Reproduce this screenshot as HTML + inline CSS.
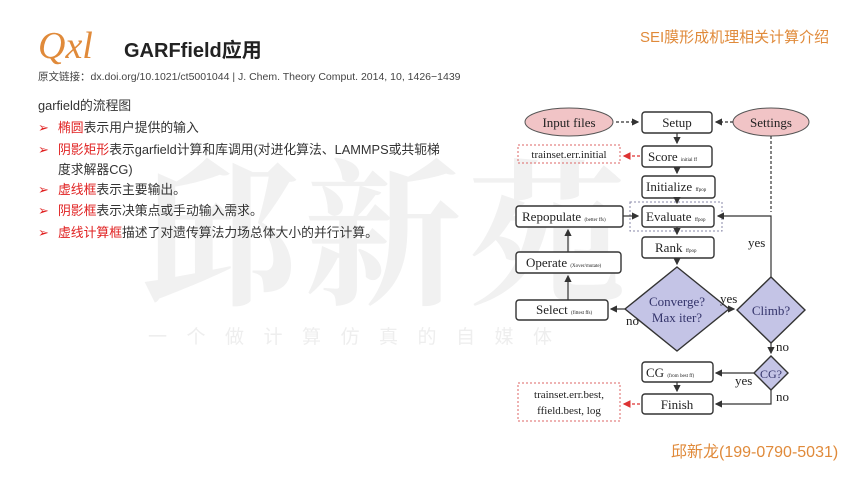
<!DOCTYPE html>
<html><head><meta charset="utf-8"><style>
html,body{margin:0;padding:0;background:#fff;}
body{width:860px;height:484px;overflow:hidden;position:relative;font-family:"Liberation Sans","Noto Sans CJK SC",sans-serif;}
</style></head><body>
<svg width="860" height="484" style="position:absolute;left:0;top:0" font-family="Liberation Sans, Noto Sans CJK SC, sans-serif">
<text x="140" y="292" font-size="158" fill="#f1f1f1" font-family="Noto Serif CJK SC, Noto Sans CJK SC, serif" font-weight="bold" letter-spacing="6">邱新苑</text>
<text x="148" y="343" font-size="19" fill="#eeeeee" letter-spacing="19.5">一个做计算仿真的自媒体</text>
<text x="38" y="58" font-size="38" fill="#e08a3a" font-style="italic" font-family="Liberation Serif, serif">Qxl</text>
<text x="124" y="57" font-size="20" fill="#222" font-weight="bold">GARFfield应用</text>
<text x="38" y="80" font-size="10.5" fill="#444">原文链接：dx.doi.org/10.1021/ct5001044 | J. Chem. Theory Comput. 2014,   10,   1426−1439</text>
<text x="640" y="42" font-size="15" fill="#e08a3a">SEI膜形成机理相关计算介绍</text>
<text x="671" y="457" font-size="16" fill="#e08a3a">邱新龙(199-0790-5031)</text>
<g font-size="12.8" fill="#333">
<text x="38" y="110">garfield的流程图</text>
<text x="38" y="132" fill="#e02020">➢</text><text x="58" y="132"><tspan fill="#e02020">椭圆</tspan>表示用户提供的输入</text>
<text x="38" y="154" fill="#e02020">➢</text><text x="58" y="154"><tspan fill="#e02020">阴影矩形</tspan>表示garfield计算和库调用(对进化算法、LAMMPS或共轭梯</text>
<text x="58" y="174">度求解器CG)</text>
<text x="38" y="194" fill="#e02020">➢</text><text x="58" y="194"><tspan fill="#e02020">虚线框</tspan>表示主要输出。</text>
<text x="38" y="215" fill="#e02020">➢</text><text x="58" y="215"><tspan fill="#e02020">阴影框</tspan>表示决策点或手动输入需求。</text>
<text x="38" y="237" fill="#e02020">➢</text><text x="58" y="237"><tspan fill="#e02020">虚线计算框</tspan>描述了对遗传算法力场总体大小的并行计算。</text>
</g>
<defs><marker id="ar" markerWidth="6" markerHeight="6" refX="5" refY="3" orient="auto"><path d="M0,0L6,3L0,6z" fill="#333"/></marker>
<marker id="rr" markerWidth="6" markerHeight="6" refX="5" refY="3" orient="auto"><path d="M0,0L6,3L0,6z" fill="#d33"/></marker></defs>
<g font-family="Liberation Serif, serif" fill="#222">
<ellipse cx="569" cy="122" rx="44" ry="14" fill="#f1c4c6" stroke="#555"/>
<text x="569" y="127" font-size="13" text-anchor="middle">Input files</text>
<ellipse cx="771" cy="122" rx="38" ry="14" fill="#f1c4c6" stroke="#555"/>
<text x="771" y="127" font-size="13" text-anchor="middle">Settings</text>
<g fill="#fff" stroke="#333" stroke-width="1.4">
<rect x="642" y="112" width="70" height="21" rx="3"/>
<rect x="642" y="146" width="70" height="21" rx="3"/>
<rect x="642" y="176" width="73" height="22" rx="3"/>
<rect x="642" y="206" width="72" height="21" rx="3"/>
<rect x="642" y="237" width="72" height="21" rx="3"/>
<rect x="516" y="206" width="107" height="21" rx="3"/>
<rect x="516" y="252" width="105" height="21" rx="3"/>
<rect x="516" y="300" width="92" height="20" rx="3"/>
<rect x="642" y="362" width="71" height="20" rx="3"/>
<rect x="642" y="394" width="71" height="20" rx="3"/>
</g>
<rect x="630" y="202" width="92" height="29" fill="none" stroke="#88a" stroke-dasharray="2,2"/>
<rect x="518" y="145" width="102" height="18" fill="none" stroke="#d66" stroke-dasharray="2,2"/>
<rect x="518" y="383" width="102" height="38" fill="none" stroke="#d66" stroke-dasharray="2,2"/>
<polygon points="677,267 729,309 677,351 625,309" fill="#c4c4e6" stroke="#333" stroke-width="1.4"/>
<polygon points="771,277 805,310 771,343 737,310" fill="#c4c4e6" stroke="#333" stroke-width="1.4"/>
<polygon points="771,356 788,373 771,390 754,373" fill="#c4c4e6" stroke="#333" stroke-width="1.4"/>
<g font-size="13">
<text x="677" y="127" text-anchor="middle">Setup</text>
<text x="648" y="161">Score <tspan font-size="5">initial ff</tspan></text>
<text x="646" y="191">Initialize <tspan font-size="5">ffpop</tspan></text>
<text x="646" y="221">Evaluate <tspan font-size="5">ffpop</tspan></text>
<text x="655" y="252">Rank <tspan font-size="5">ffpop</tspan></text>
<text x="522" y="221">Repopulate <tspan font-size="5">(better ffs)</tspan></text>
<text x="526" y="267">Operate <tspan font-size="5">(Xover/mutate)</tspan></text>
<text x="536" y="314">Select <tspan font-size="5">(fittest ffs)</tspan></text>
<text x="646" y="377">CG <tspan font-size="5">(from best ff)</tspan></text>
<text x="677" y="409" text-anchor="middle">Finish</text>
<text x="569" y="158" text-anchor="middle" font-size="11">trainset.err.initial</text>
<text x="569" y="398" text-anchor="middle" font-size="11">trainset.err.best,</text>
<text x="569" y="414" text-anchor="middle" font-size="11">ffield.best, log</text>
<text x="677" y="306" text-anchor="middle" fill="#33336a">Converge?</text>
<text x="677" y="322" text-anchor="middle" fill="#33336a">Max iter?</text>
<text x="771" y="315" text-anchor="middle" fill="#33336a">Climb?</text>
<text x="771" y="378" text-anchor="middle" fill="#33336a" font-size="12">CG?</text>
<text x="720" y="303">yes</text>
<text x="748" y="247">yes</text>
<text x="626" y="325">no</text>
<text x="776" y="351">no</text>
<text x="735" y="385">yes</text>
<text x="776" y="401">no</text>
</g>
<g stroke="#333" stroke-width="1.2" fill="none">
<path d="M616,122H638" stroke-dasharray="3,2" marker-end="url(#ar)"/>
<path d="M733,122H716" stroke-dasharray="3,2" marker-end="url(#ar)"/>
<path d="M771,136V212" stroke-dasharray="3,2"/>
<path d="M677,133V143" marker-end="url(#ar)"/>
<path d="M677,167V173" marker-end="url(#ar)"/>
<path d="M677,198V203" marker-end="url(#ar)"/>
<path d="M677,227V234" marker-end="url(#ar)"/>
<path d="M677,258V264" marker-end="url(#ar)"/>
<path d="M623,216H638" marker-end="url(#ar)"/>
<path d="M568,252V230" marker-end="url(#ar)"/>
<path d="M568,300V276" marker-end="url(#ar)"/>
<path d="M625,309H611" marker-end="url(#ar)"/>
<path d="M729,309H734" marker-end="url(#ar)"/>
<path d="M771,277V216H718" marker-end="url(#ar)"/>
<path d="M771,343V353" marker-end="url(#ar)"/>
<path d="M754,373H716" marker-end="url(#ar)"/>
<path d="M771,390V404H716" marker-end="url(#ar)"/>
<path d="M677,382V391" marker-end="url(#ar)"/>
</g>
<path d="M640,156H624" stroke="#d33" stroke-width="1.3" stroke-dasharray="3,2" marker-end="url(#rr)"/>
<path d="M640,404H624" stroke="#d33" stroke-width="1.3" stroke-dasharray="3,2" marker-end="url(#rr)"/>
</g>
</svg>
</body></html>
